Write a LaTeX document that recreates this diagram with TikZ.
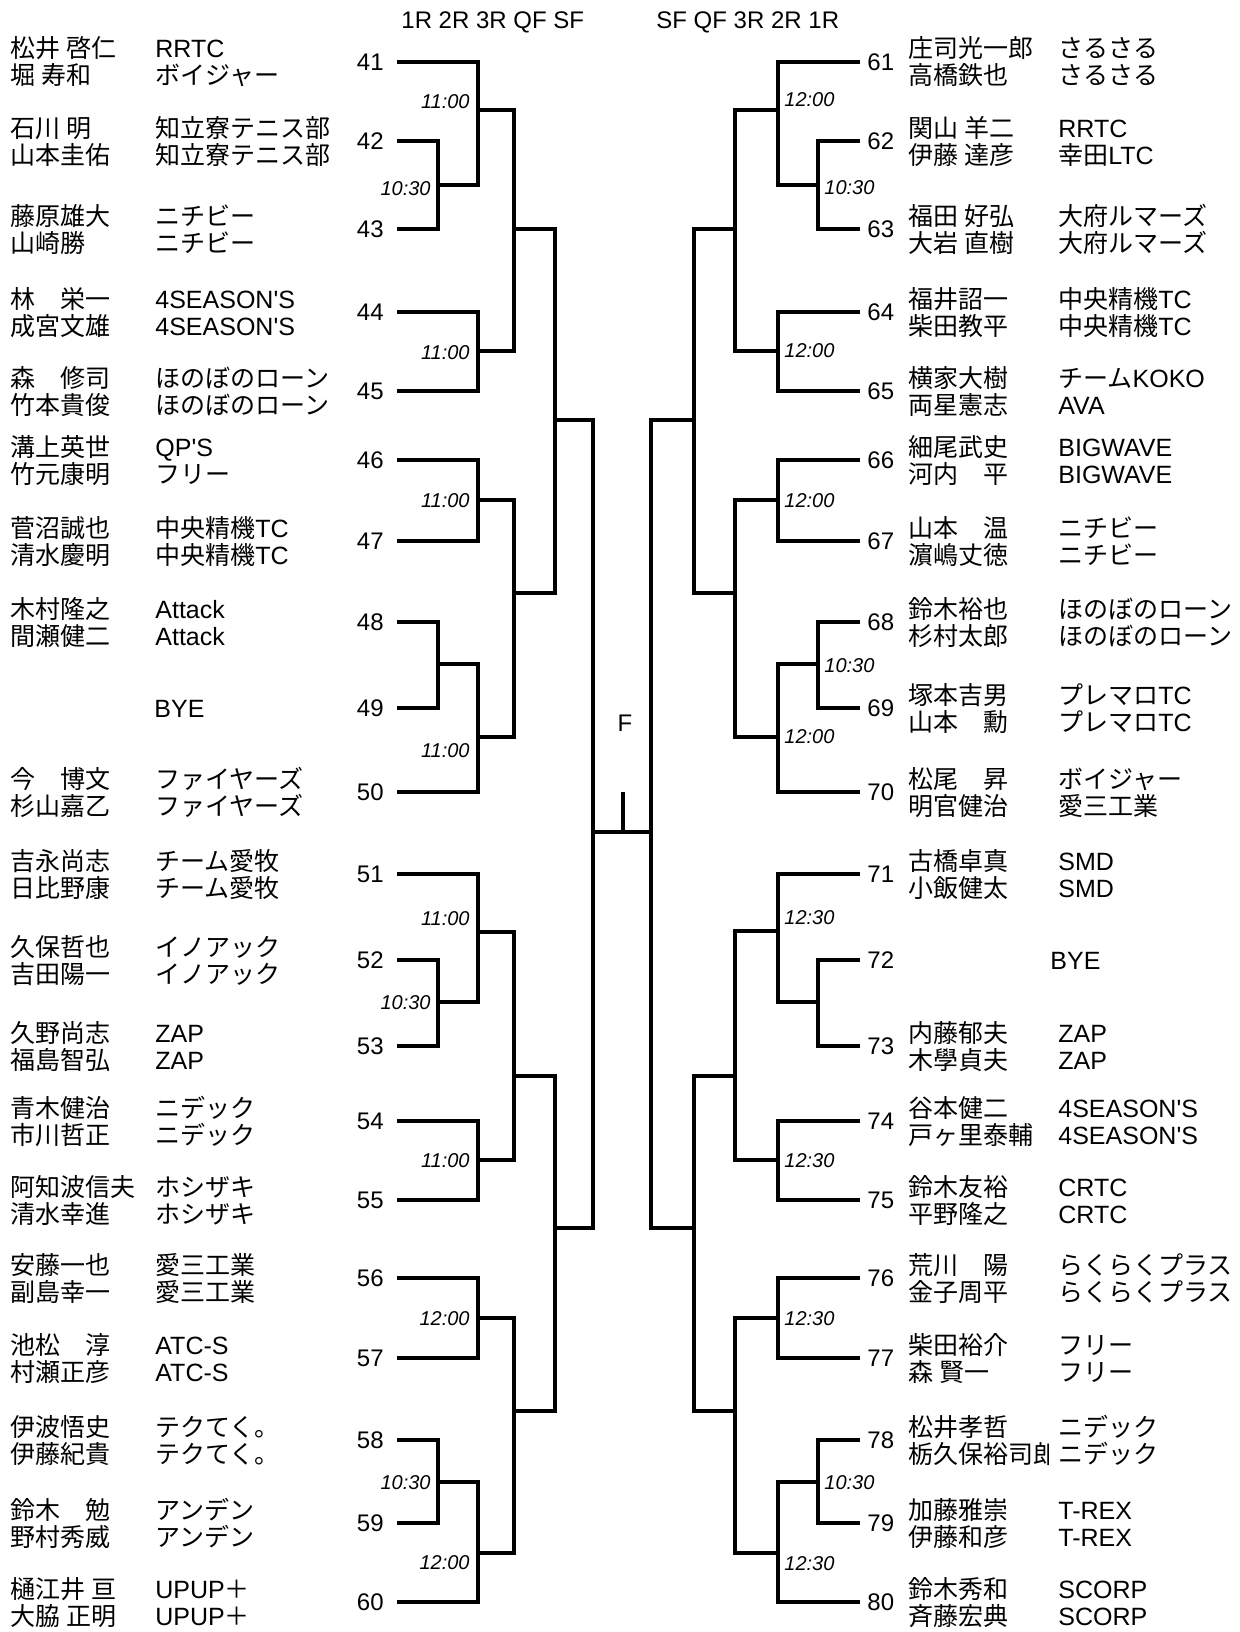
\documentclass[tikz,border=0pt]{standalone}
\usepackage{fontspec}
\setmainfont{Noto Sans CJK JP}
\newfontfamily\lat{Liberation Sans}[Ligatures=TeXOff]
\tikzset{
 br/.style={line width=1.55pt, line join=miter},
 nm/.style={anchor=base west, inner sep=0pt, font=\fontsize{12.5}{13}\selectfont},
 numL/.style={anchor=base east, inner sep=0pt, font=\lat\fontsize{12}{12}\selectfont},
 numR/.style={anchor=base west, inner sep=0pt, font=\lat\fontsize{12}{12}\selectfont},
 tmL/.style={anchor=base east, inner sep=0pt, font=\lat\itshape\fontsize{10}{10}\selectfont},
 tmR/.style={anchor=base west, inner sep=0pt, font=\lat\itshape\fontsize{10}{10}\selectfont},
 hd/.style={anchor=base west, inner sep=0pt, font=\lat\fontsize{12}{12}\selectfont},
}
% left entry: num, y, name1, name2, team1, team2
\newcommand\EL[6]{%
 \coordinate (e#1) at (397,#2);
 \node[numL] (no#1) at (384,#2+8.5) {#1};
 \node[nm] (na#1) at (10,#2-4) {#3};
 \node[nm] (nb#1) at (10,#2+23) {#4};
 \node[nm] (ta#1) at (155,#2-4) {#5};
 \node[nm] (tb#1) at (155,#2+23) {#6};
}
\newcommand\ER[6]{%
 \coordinate (e#1) at (860,#2);
 \node[numR] (no#1) at (867,#2+8.5) {#1};
 \node[nm] (na#1) at (908,#2-4) {#3};
 \node[nm] (nb#1) at (908,#2+23) {#4};
 \node[nm] (ta#1) at (1058,#2-4) {#5};
 \node[nm] (tb#1) at (1058,#2+23) {#6};
}
\begin{document}
\begin{tikzpicture}[x=0.5pt,y=-0.5pt]
\fill[white] (0,0) rectangle (1240,1632);
\useasboundingbox (0,0) rectangle (1240,1632);

% headers
\node[hd] (hl) at (401,29) {1R 2R 3R QF SF};
\node[hd] (hr) at (656,29) {SF QF 3R 2R 1R};

% ---------- left entries ----------
\EL{41}{62}{松井 啓仁}{堀 寿和}{\lat RRTC}{ボイジャー}
\EL{42}{141}{石川 明}{山本圭佑}{知立寮テニス部}{知立寮テニス部}
\EL{43}{229}{藤原雄大}{山崎勝}{ニチビー}{ニチビー}
\EL{44}{312}{林　栄一}{成宮文雄}{\lat 4SEASON'S}{\lat 4SEASON'S}
\EL{45}{391}{森　修司}{竹本貴俊}{ほのぼのローン}{ほのぼのローン}
\EL{46}{460}{溝上英世}{竹元康明}{\lat QP'S}{フリー}
\EL{47}{541}{菅沼誠也}{清水慶明}{中央精機{\lat TC}}{中央精機{\lat TC}}
\EL{48}{622}{木村隆之}{間瀬健二}{\lat Attack}{\lat Attack}
\coordinate (e49) at (397,708);
\node[numL] (no49) at (384,716.5) {49};
\node[nm] (t49) at (154,717) {\lat BYE};
\EL{50}{792}{今　博文}{杉山嘉乙}{ファイヤーズ}{ファイヤーズ}
\EL{51}{874}{吉永尚志}{日比野康}{チーム愛牧}{チーム愛牧}
\EL{52}{960}{久保哲也}{吉田陽一}{イノアック}{イノアック}
\EL{53}{1046}{久野尚志}{福島智弘}{\lat ZAP}{\lat ZAP}
\EL{54}{1121}{青木健治}{市川哲正}{ニデック}{ニデック}
\EL{55}{1200}{阿知波信夫}{清水幸進}{ホシザキ}{ホシザキ}
\EL{56}{1278}{安藤一也}{副島幸一}{愛三工業}{愛三工業}
\EL{57}{1358}{池松　淳}{村瀬正彦}{\lat ATC-S}{\lat ATC-S}
\EL{58}{1440}{伊波悟史}{伊藤紀貴}{テクてく。}{テクてく。}
\EL{59}{1523}{鈴木　勉}{野村秀威}{アンデン}{アンデン}
\EL{60}{1602}{樋江井 亘}{大脇 正明}{{\lat UPUP}＋}{{\lat UPUP}＋}

% ---------- right entries ----------
\ER{61}{62}{庄司光一郎}{高橋鉄也}{さるさる}{さるさる}
\ER{62}{141}{関山 羊二}{伊藤 達彦}{\lat RRTC}{幸田{\lat LTC}}
\ER{63}{229}{福田 好弘}{大岩 直樹}{大府ルマーズ}{大府ルマーズ}
\ER{64}{312}{福井詔一}{柴田教平}{中央精機{\lat TC}}{中央精機{\lat TC}}
\ER{65}{391}{横家大樹}{両星憲志}{チーム{\lat KOKO}}{\lat AVA}
\ER{66}{460}{細尾武史}{河内　平}{\lat BIGWAVE}{\lat BIGWAVE}
\ER{67}{541}{山本　温}{濵嶋丈徳}{ニチビー}{ニチビー}
\ER{68}{622}{鈴木裕也}{杉村太郎}{ほのぼのローン}{ほのぼのローン}
\ER{69}{708}{塚本吉男}{山本　勳}{プレマロ{\lat TC}}{プレマロ{\lat TC}}
\ER{70}{792}{松尾　昇}{明官健治}{ボイジャー}{愛三工業}
\ER{71}{874}{古橋卓真}{小飯健太}{\lat SMD}{\lat SMD}
\coordinate (e72) at (860,960);
\node[numR] (no72) at (867,968.5) {72};
\node[nm] (t72) at (1050,969) {\lat BYE};
\ER{73}{1046}{内藤郁夫}{木學貞夫}{\lat ZAP}{\lat ZAP}
\ER{74}{1121}{谷本健二}{戸ヶ里泰輔}{\lat 4SEASON'S}{\lat 4SEASON'S}
\ER{75}{1200}{鈴木友裕}{平野隆之}{\lat CRTC}{\lat CRTC}
\ER{76}{1278}{荒川　陽}{金子周平}{らくらくプラス}{らくらくプラス}
\ER{77}{1358}{柴田裕介}{森 賢一}{フリー}{フリー}
% 78 (second name clipped by team cell)
\coordinate (e78) at (860,1440);
\node[numR] (no78) at (867,1448.5) {78};
\node[nm] (na78) at (908,1436) {松井孝哲};
\begin{scope}
\clip (900,1440) rectangle (1048,1480);
\node[nm] (nb78) at (908,1463) {栃久保裕司郎};
\end{scope}
\node[nm] (ta78) at (1058,1436) {ニデック};
\node[nm] (tb78) at (1058,1463) {ニデック};
\ER{79}{1523}{加藤雅崇}{伊藤和彦}{\lat T-REX}{\lat T-REX}
\ER{80}{1602}{鈴木秀和}{斉藤宏典}{\lat SCORP}{\lat SCORP}

% ---------- left bracket ----------
\coordinate (j1) at (438,185);
\coordinate (j2) at (478,110);
\coordinate (j4) at (478,351);
\coordinate (j5) at (514,229);
\coordinate (j6) at (478,500);
\coordinate (j7) at (438,664);
\coordinate (j7b) at (478,737);
\coordinate (j8) at (514,593);
\coordinate (jQ) at (555,420);
\coordinate (k1) at (438,1002);
\coordinate (k2) at (478,932);
\coordinate (k3) at (478,1160);
\coordinate (k4) at (514,1076);
\coordinate (k5) at (478,1318);
\coordinate (k6) at (438,1482);
\coordinate (k7) at (478,1553);
\coordinate (k8) at (514,1411);
\coordinate (jQ2) at (555,1228);
\coordinate (jS) at (593,832);

\draw[br] (e42) -| (j1) |- (e43);
\draw[br] (e41) -| (j2) |- (j1);
\draw[br] (e44) -| (j4) |- (e45);
\draw[br] (j2) -| (j5) |- (j4);
\draw[br] (e46) -| (j6) |- (e47);
\draw[br] (e48) -| (j7) |- (e49);
\draw[br] (j7) -| (j7b) |- (e50);
\draw[br] (j6) -| (j8) |- (j7b);
\draw[br] (j5) -| (jQ) |- (j8);
\draw[br] (e52) -| (k1) |- (e53);
\draw[br] (e51) -| (k2) |- (k1);
\draw[br] (e54) -| (k3) |- (e55);
\draw[br] (k2) -| (k4) |- (k3);
\draw[br] (e56) -| (k5) |- (e57);
\draw[br] (e58) -| (k6) |- (e59);
\draw[br] (k6) -| (k7) |- (e60);
\draw[br] (k5) -| (k8) |- (k7);
\draw[br] (k4) -| (jQ2) |- (k8);
\draw[br] (jQ) -| (jS) |- (jQ2);

% ---------- right bracket ----------
\coordinate (r1) at (818,185);
\coordinate (r2) at (778,110);
\coordinate (r3) at (778,351);
\coordinate (r4) at (735,229);
\coordinate (r5) at (778,500);
\coordinate (r6) at (818,664);
\coordinate (r7) at (778,737);
\coordinate (r8) at (735,593);
\coordinate (rQ) at (694,420);
\coordinate (s1) at (818,1002);
\coordinate (s2) at (778,931);
\coordinate (s3) at (778,1160);
\coordinate (s4) at (735,1076);
\coordinate (s5) at (778,1318);
\coordinate (s6) at (818,1482);
\coordinate (s7) at (778,1553);
\coordinate (s8) at (735,1411);
\coordinate (rQ2) at (694,1228);
\coordinate (rS) at (651,832);

\draw[br] (e62) -| (r1) |- (e63);
\draw[br] (e61) -| (r2) |- (r1);
\draw[br] (e64) -| (r3) |- (e65);
\draw[br] (r2) -| (r4) |- (r3);
\draw[br] (e66) -| (r5) |- (e67);
\draw[br] (e68) -| (r6) |- (e69);
\draw[br] (r6) -| (r7) |- (e70);
\draw[br] (r5) -| (r8) |- (r7);
\draw[br] (r4) -| (rQ) |- (r8);
\draw[br] (e72) -| (s1) |- (e73);
\draw[br] (e71) -| (s2) |- (s1);
\draw[br] (e74) -| (s3) |- (e75);
\draw[br] (s2) -| (s4) |- (s3);
\draw[br] (e76) -| (s5) |- (e77);
\draw[br] (e78) -| (s6) |- (e79);
\draw[br] (s6) -| (s7) |- (e80);
\draw[br] (s5) -| (s8) |- (s7);
\draw[br] (s4) -| (rQ2) |- (s8);
\draw[br] (rQ) -| (rS) |- (rQ2);

% ---------- final ----------
\draw[br] (jS) -- (rS);
\coordinate (ft) at (623,792);
\draw[br] (ft) -- (ft |- jS);
\node[anchor=base, inner sep=0pt, font=\lat\fontsize{12}{12}\selectfont] (F) at (625,731.5) {F};

% ---------- times ----------
\node[tmL] (tl1) at (470,109) {11:00};
\node[tmL] (tl2) at (431,195) {10:30};
\node[tmL] (tl3) at (470,359) {11:00};
\node[tmL] (tl4) at (470,507) {11:00};
\node[tmL] (tl5) at (470,757) {11:00};
\node[tmL] (tl6) at (470,925) {11:00};
\node[tmL] (tl7) at (431,1009) {10:30};
\node[tmL] (tl8) at (470,1167) {11:00};
\node[tmL] (tl9) at (470,1325) {12:00};
\node[tmL] (tl10) at (431,1489) {10:30};
\node[tmL] (tl11) at (470,1569) {12:00};

\node[tmR] (tr1) at (784,107) {12:00};
\node[tmR] (tr2) at (824,194) {10:30};
\node[tmR] (tr3) at (784,357) {12:00};
\node[tmR] (tr4) at (784,507) {12:00};
\node[tmR] (tr5) at (824,672) {10:30};
\node[tmR] (tr6) at (784,743) {12:00};
\node[tmR] (tr7) at (784,924) {12:30};
\node[tmR] (tr8) at (784,1167) {12:30};
\node[tmR] (tr9) at (784,1325) {12:30};
\node[tmR] (tr10) at (824,1489) {10:30};
\node[tmR] (tr11) at (784,1570) {12:30};
\end{tikzpicture}
\end{document}
